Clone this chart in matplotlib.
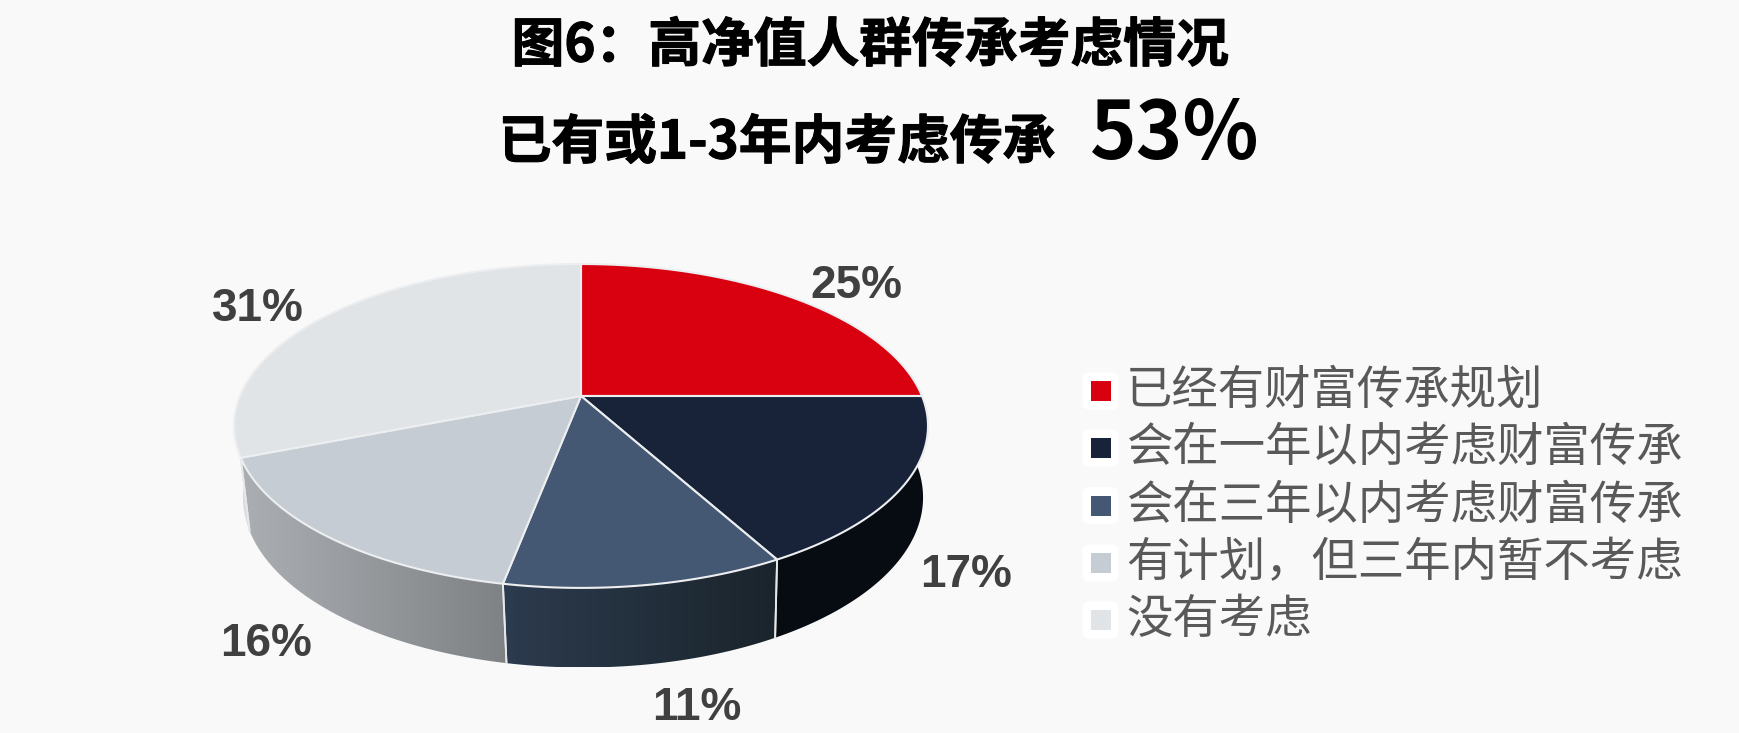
import matplotlib
matplotlib.use("Agg")
import matplotlib.pyplot as plt
import matplotlib.patheffects as pe
import numpy as np
from matplotlib.colors import LinearSegmentedColormap
from matplotlib.patches import FancyBboxPatch, Polygon, Rectangle

plt.rcParams['font.family'] = ['Noto Sans CJK SC', 'DejaVu Sans']

# data
categories = ["已经有财富传承规划", "会在一年以内考虑财富传承", "会在三年以内考虑财富传承",
              "有计划，但三年内暂不考虑", "没有考虑"]
shares = [25, 17, 11, 16, 31]

# styles
top_colors = ["#d9000f", "#18233a", "#445873", "#c6ccd3", "#e1e4e7"]
wall_colors = [("#70000a", "#70000a"), ("#070c13", "#080d14"), ("#2c3b4e", "#1a242b"),
               ("#abafb4", "#7e8284"), ("#d8dadd", "#d8dadd")]
bg = "#f9f9f9"
cx, cy = 581, 396
rx, ry, k = 341, 156.4, 0.185
depth, sx, sy, shift = 70, 0.98, 1.05, 2


def rim(theta, bottom=False):
    X, Y = np.sin(theta), -np.cos(theta)
    den = 1 - k * Y
    x, y = rx * X / den, ry * Y / den
    if bottom:
        return cx + shift + sx * x, cy + depth + sy * y
    return cx + x, cy + y


fig = plt.figure(figsize=(17.39, 7.33), dpi=100, facecolor=bg)
ax = fig.add_axes([0, 0, 1, 1])
ax.set_facecolor(bg)
ax.axis("off")

edges = 2 * np.pi * np.cumsum([0] + shares) / sum(shares)

# side walls, back pieces first
for i in [0, 4, 1, 3, 2]:
    t = np.linspace(edges[i], edges[i + 1], 120)
    xt, yt = rim(t)
    xb, yb = rim(t, bottom=True)
    pts = np.column_stack([np.r_[xt, xb[::-1]], np.r_[yt, yb[::-1]]])
    poly = Polygon(pts, closed=True, facecolor="none", edgecolor="none")
    ax.add_patch(poly)
    cmap = LinearSegmentedColormap.from_list("w", wall_colors[i])
    x0, x1 = pts[:, 0].min(), pts[:, 0].max()
    if i == 2 or i == 3:
        grad = np.linspace(0, 1, 256).reshape(1, -1)
    else:
        grad = np.zeros((1, 2))
    im = ax.imshow(grad, cmap=cmap, vmin=0, vmax=1, aspect="auto",
                   extent=[x0, x1, pts[:, 1].max(), pts[:, 1].min()], zorder=2)
    im.set_clip_path(poly)
    # white seam where two walls meet
    ax.plot([xt[0], xb[0]], [yt[0], yb[0]], color="#e6e8ea", lw=1.3, zorder=3)
    ax.plot([xt[-1], xb[-1]], [yt[-1], yb[-1]], color="#e6e8ea", lw=1.3, zorder=3)

# top faces
for i, c in enumerate(top_colors):
    t = np.linspace(edges[i], edges[i + 1], 160)
    xt, yt = rim(t)
    pts = np.column_stack([np.r_[cx, xt], np.r_[cy, yt]])
    ax.add_patch(Polygon(pts, closed=True, facecolor=c, edgecolor="#eceef0",
                         lw=1.5, joinstyle="round", zorder=4))

# percent labels
label_x = [856, 966, 697, 266, 258]
label_y = [286, 575, 708, 644, 309]
for v, lx, ly in zip(shares, label_x, label_y):
    ax.text(lx, ly, f"{v}%", ha="center", va="center", fontsize=33, fontweight="bold",
            family="Liberation Sans", color="#404040", zorder=6)

# legend
row_y = [391, 448, 505.5, 563, 620]
for name, c, y in zip(categories, top_colors, row_y):
    ax.add_patch(FancyBboxPatch((1086, y - 15), 29, 30, boxstyle="round,pad=0,rounding_size=3",
                                facecolor="white", edgecolor="white", lw=5, zorder=5))
    ax.add_patch(Rectangle((1091, y - 10), 20, 20, facecolor=c, edgecolor="none", zorder=6))
    ax.text(1126, y, name, ha="left", va="center", fontsize=33.4, color="#595959", zorder=6)

# headings
heavy = [pe.withStroke(linewidth=0.8, foreground="black")]
ax.text(870, 46, "图6：高净值人群传承考虑情况", ha="center", va="center",
        fontsize=38, fontweight="bold", color="black", path_effects=heavy)
ax.text(777, 143, "已有或1-3年内考虑传承", ha="center", va="center",
        fontsize=38, fontweight="bold", color="black", path_effects=heavy)
ax.text(1175, 135, "53%", ha="center", va="center",
        fontsize=57, fontweight="bold", color="black")

ax.set_xlim(0, 1739)
ax.set_ylim(733, 0)
fig.savefig("out.png", dpi=100, facecolor=bg)
